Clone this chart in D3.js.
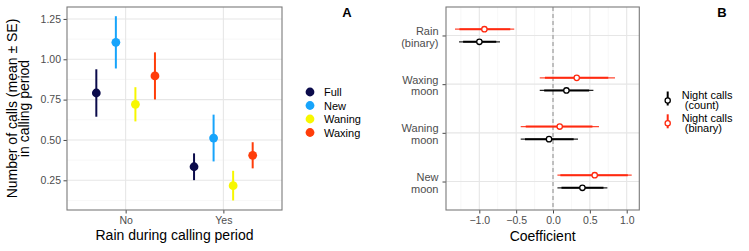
<!DOCTYPE html>
<html><head><meta charset="utf-8">
<script src="https://cdn.jsdelivr.net/npm/d3@7"></script>
<style>body{margin:0;background:#fff}svg{display:block;font-family:"Liberation Sans",Arial,sans-serif}</style>
</head><body><svg id="c" width="749" height="251"></svg>
<script>
// Panel A data
const rainCats = ["No", "Yes"];
const phases = ["Full", "New", "Waning", "Waxing"];
const phaseColors = ["#0b0b4b", "#17a4fb", "#f7f700", "#ff3d0a"];
const meanNo = [0.791, 1.105, 0.721, 0.897];
const seNo = [0.147, 0.162, 0.106, 0.146];
const meanYes = [0.334, 0.512, 0.217, 0.405];
const seYes = [0.083, 0.145, 0.092, 0.081];
const yTicksA = [0.25, 0.50, 0.75, 1.00, 1.25];

// Panel B data
const terms = ["Rain\n(binary)", "Waxing\nmoon", "Waning\nmoon", "New\nmoon"];
const binEst = [-0.931, 0.322, 0.091, 0.566];
const binLo95 = [-1.33, -0.18, -0.438, 0.06];
const binHi95 = [-0.526, 0.841, 0.624, 1.068];
const binLoIn = [-1.27, -0.11, -0.37, 0.10];
const binHiIn = [-0.58, 0.75, 0.535, 1.015];
const cntEst = [-0.999, 0.182, -0.054, 0.399];
const cntLo95 = [-1.275, -0.18, -0.438, 0.06];
const cntHi95 = [-0.719, 0.548, 0.339, 0.738];
const cntLoIn = [-1.22, -0.12, -0.38, 0.115];
const cntHiIn = [-0.77, 0.49, 0.28, 0.685];
const xTicksB = [-1.0, -0.5, 0.0, 0.5, 1.0];
const legendB = ["Night calls\n (count)", "Night calls\n (binary)"];
const colorB = ["#000000", "#ff2a10"];

const svg = d3.select("#c");
const gridMaj = "#e6e6e6", gridMin = "#f2f2f2", border = "#7a7a7a", tickCol = "#4d4d4d";

// ---------- Panel A ----------
const A = {l: 67, r: 282, t: 7, b: 210};
const yA = d3.scaleLinear().domain([0.066, 1.324]).range([A.b, A.t]);
const xA = d3.scalePoint().domain(rainCats).range([A.l, A.r]).padding(0.6);
const gA = svg.append("g");
const minorA = d3.range(0.125, 1.33, 0.25);
gA.selectAll(".mn").data(minorA).enter().append("line")
  .attr("x1", A.l).attr("x2", A.r).attr("y1", d => yA(d)).attr("y2", d => yA(d))
  .attr("stroke", gridMin).attr("stroke-width", 0.6);
gA.selectAll(".mj").data(yTicksA).enter().append("line")
  .attr("x1", A.l).attr("x2", A.r).attr("y1", d => yA(d)).attr("y2", d => yA(d))
  .attr("stroke", gridMaj).attr("stroke-width", 1.1);
gA.selectAll(".vx").data(rainCats).enter().append("line")
  .attr("x1", d => xA(d)).attr("x2", d => xA(d)).attr("y1", A.t).attr("y2", A.b)
  .attr("stroke", gridMaj).attr("stroke-width", 1.1);
const axA_y = svg.append("g").attr("transform", `translate(${A.l},0)`)
  .call(d3.axisLeft(yA).tickValues(yTicksA).tickFormat(d3.format(".2f")).tickSize(3.5).tickPadding(2.5));
const axA_x = svg.append("g").attr("transform", `translate(0,${A.b})`)
  .call(d3.axisBottom(xA).tickSize(3.5).tickPadding(3));
[axA_y, axA_x].forEach(a => {
  a.select(".domain").remove();
  a.selectAll("line").attr("stroke", "#333").attr("stroke-width", 0.9);
  a.selectAll("text").attr("fill", tickCol).style("font-size", "10.5px");
});
const step = xA.step();
const ptsA = [];
rainCats.forEach((c, ci) => {
  const m = ci === 0 ? meanNo : meanYes, s = ci === 0 ? seNo : seYes;
  phases.forEach((p, i) => ptsA.push({c, i, m: m[i], s: s[i]}));
});
const dodge = d => xA(d.c) + (d.i - 1.5) * step * 0.2;
gA.selectAll(".eb").data(ptsA).enter().append("line")
  .attr("x1", dodge).attr("x2", dodge)
  .attr("y1", d => yA(d.m - d.s)).attr("y2", d => yA(d.m + d.s))
  .attr("stroke", d => phaseColors[d.i]).attr("stroke-width", 2);
gA.selectAll(".pt").data(ptsA).enter().append("circle")
  .attr("cx", dodge).attr("cy", d => yA(d.m)).attr("r", 4.4)
  .attr("fill", d => phaseColors[d.i]);
svg.append("rect").attr("x", A.l).attr("y", A.t).attr("width", A.r - A.l).attr("height", A.b - A.t)
  .attr("fill", "none").attr("stroke", border).attr("stroke-width", 1.1);
svg.append("text").attr("x", (A.l + A.r) / 2).attr("y", 240).attr("text-anchor", "middle")
  .style("font-size", "14px").attr("fill", "#000").text("Rain during calling period");
const ytA = svg.append("text").attr("transform", `translate(16.5,${(A.t + A.b) / 2}) rotate(-90)`)
  .attr("text-anchor", "middle").style("font-size", "14px");
ytA.append("tspan").attr("x", 0).attr("y", 0).text("Number of calls (mean \u00b1 SE)");
ytA.append("tspan").attr("x", 0).attr("y", 12.3).text("in calling period");
const lgA = svg.append("g");
phases.forEach((p, i) => {
  const y = 92 + i * 13.5;
  lgA.append("circle").attr("cx", 310).attr("cy", y).attr("r", 4.4).attr("fill", phaseColors[i]);
  lgA.append("text").attr("x", 324).attr("y", y + 4).style("font-size", "11px").text(p);
});
svg.append("text").attr("x", 347).attr("y", 17).attr("text-anchor", "middle")
  .style("font-size", "13px").style("font-weight", "bold").text("A");

// ---------- Panel B ----------
const B = {l: 446, r: 639.3, t: 7, b: 210};
const xB = d3.scaleLinear().domain([-1.452, 1.171]).range([B.l, B.r]);
const yB = d3.scalePoint().domain(terms).range([B.t, B.b]).padding(0.585);
const gB = svg.append("g");
const minorB = [-1.25, -0.75, -0.25, 0.25, 0.75];
gB.selectAll(".mn").data(minorB).enter().append("line")
  .attr("x1", d => xB(d)).attr("x2", d => xB(d)).attr("y1", B.t).attr("y2", B.b)
  .attr("stroke", gridMin).attr("stroke-width", 0.6);
gB.selectAll(".mj").data(xTicksB).enter().append("line")
  .attr("x1", d => xB(d)).attr("x2", d => xB(d)).attr("y1", B.t).attr("y2", B.b)
  .attr("stroke", gridMaj).attr("stroke-width", 1.1);
gB.selectAll(".hy").data(terms).enter().append("line")
  .attr("x1", B.l).attr("x2", B.r).attr("y1", d => yB(d)).attr("y2", d => yB(d))
  .attr("stroke", gridMaj).attr("stroke-width", 1.1);
gB.append("line").attr("x1", xB(0)).attr("x2", xB(0)).attr("y1", B.t).attr("y2", B.b)
  .attr("stroke", "#8c8c8c").attr("stroke-width", 1).attr("stroke-dasharray", "4,3");
const axB_x = svg.append("g").attr("transform", `translate(0,${B.b})`)
  .call(d3.axisBottom(xB).tickValues(xTicksB).tickFormat(d3.format(".1f")).tickSize(3.5).tickPadding(3));
axB_x.select(".domain").remove();
axB_x.selectAll("line").attr("stroke", "#333").attr("stroke-width", 0.9);
axB_x.selectAll("text").attr("fill", tickCol).style("font-size", "10.5px");
const axB_y = svg.append("g").attr("transform", `translate(${B.l},0)`)
  .call(d3.axisLeft(yB).tickSize(3.5).tickFormat(""));
axB_y.select(".domain").remove();
axB_y.selectAll("line").attr("stroke", "#333").attr("stroke-width", 0.9);
terms.forEach(t => {
  const lines = t.split("\n");
  const tx = svg.append("text").attr("text-anchor", "end").style("font-size", "11px").attr("fill", tickCol);
  lines.forEach((ln, k) => tx.append("tspan").attr("x", 438.5).attr("y", yB(t) - 0.5 + k * 11.7).text(ln));
});
const ptsB = [];
terms.forEach((t, i) => {
  ptsB.push({t, s: 1, off: -6.3, e: binEst[i], lo: binLo95[i], hi: binHi95[i], li: binLoIn[i], hi2: binHiIn[i]});
  ptsB.push({t, s: 0, off: 6.3, e: cntEst[i], lo: cntLo95[i], hi: cntHi95[i], li: cntLoIn[i], hi2: cntHiIn[i]});
});
gB.selectAll(".o").data(ptsB).enter().append("line")
  .attr("x1", d => xB(d.lo)).attr("x2", d => xB(d.hi))
  .attr("y1", d => yB(d.t) + d.off).attr("y2", d => yB(d.t) + d.off)
  .attr("stroke", d => colorB[d.s]).attr("stroke-width", 1.2).attr("opacity", 0.85);
gB.selectAll(".i").data(ptsB).enter().append("line")
  .attr("x1", d => xB(d.li)).attr("x2", d => xB(d.hi2))
  .attr("y1", d => yB(d.t) + d.off).attr("y2", d => yB(d.t) + d.off)
  .attr("stroke", d => colorB[d.s]).attr("stroke-width", 2);
gB.selectAll(".p").data(ptsB).enter().append("circle")
  .attr("cx", d => xB(d.e)).attr("cy", d => yB(d.t) + d.off).attr("r", 2.7)
  .attr("fill", "#fff").attr("stroke", d => colorB[d.s]).attr("stroke-width", 1.3);
svg.append("rect").attr("x", B.l).attr("y", B.t).attr("width", B.r - B.l).attr("height", B.b - B.t)
  .attr("fill", "none").attr("stroke", border).attr("stroke-width", 1.1);
svg.append("text").attr("x", (B.l + B.r) / 2).attr("y", 240.5).attr("text-anchor", "middle")
  .style("font-size", "14px").text("Coefficient");
// legend B
legendB.forEach((lab, i) => {
  const cy = 98.5 + i * 22.8;
  svg.append("line").attr("x1", 667.7).attr("x2", 667.7).attr("y1", cy - 7).attr("y2", cy + 7)
    .attr("stroke", colorB[i]).attr("stroke-width", 2);
  svg.append("circle").attr("cx", 667.7).attr("cy", cy + 2).attr("r", 2.6)
    .attr("fill", "#fff").attr("stroke", colorB[i]).attr("stroke-width", 1.3);
  const tx = svg.append("text").style("font-size", "11px").attr("xml:space", "preserve").style("white-space", "pre");
  lab.split("\n").forEach((ln, k) => tx.append("tspan").attr("x", 681.7).attr("y", cy + 0.2 + k * 10.6).text(ln));
});
svg.append("text").attr("x", 722).attr("y", 17).attr("text-anchor", "middle")
  .style("font-size", "13px").style("font-weight", "bold").text("B");
</script></body></html>
